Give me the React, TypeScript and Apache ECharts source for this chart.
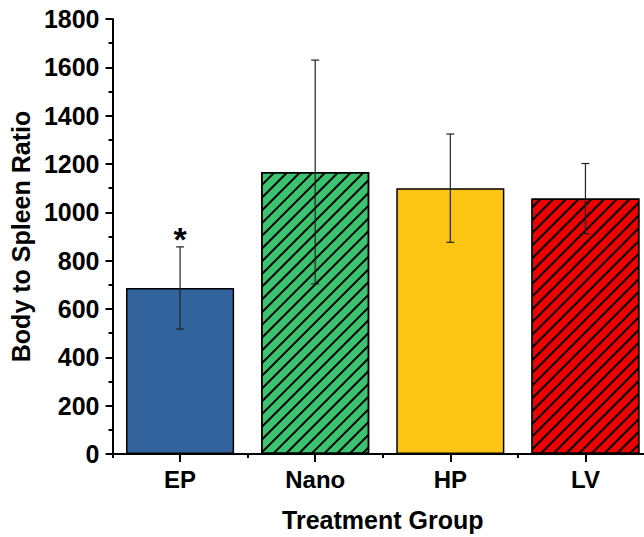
import React, { useEffect, useRef } from "react";
import * as echarts from "echarts";

const categories = ["EP", "Nano", "HP", "LV"];
const means = [687, 1167, 1100, 1057];
const errors = [170, 463, 224, 145];
const annotations = ["*", "", "", ""];
const barColors = ["#32639C", "#3CC36F", "#FDC513", "#EC0000"];
const hatched = [false, true, false, true];

const FONT = "Arial, 'Liberation Sans', sans-serif";

export default function App() {
  const ref = useRef<HTMLDivElement>(null);
  useEffect(() => {
    if (!ref.current) return;
    const chart = echarts.init(ref.current, undefined, { renderer: "svg" });
    const errData = categories.map((c, i) => [i, means[i] - errors[i], means[i] + errors[i], annotations[i]]);
    chart.setOption({
      animation: false,
      backgroundColor: "#fff",
      grid: { left: 111.5, top: 19, right: 0, bottom: 82 },
      xAxis: [
        {
          type: "category",
          data: categories,
          position: "bottom",
          axisLine: { show: true, lineStyle: { color: "#000", width: 2 } },
          axisTick: { show: true, alignWithLabel: true, length: 8, lineStyle: { color: "#000", width: 2 } },
          axisLabel: { color: "#000", fontFamily: FONT, fontWeight: "bold", fontSize: 24, margin: 13 },
          name: "Treatment Group",
          nameLocation: "middle",
          nameGap: 53,
          nameTextStyle: { color: "#000", fontFamily: FONT, fontWeight: "bold", fontSize: 25 },
        },
        {
          type: "category",
          data: categories,
          position: "bottom",
          axisLine: { show: false },
          axisTick: { show: true, alignWithLabel: false, length: 4, lineStyle: { color: "#000", width: 2 } },
          axisLabel: { show: false },
        },
      ],
      yAxis: {
        type: "value",
        min: 0,
        max: 1800,
        interval: 200,
        splitLine: { show: false },
        axisLine: { show: true, lineStyle: { color: "#000", width: 2 } },
        axisTick: { show: true, length: 7, lineStyle: { color: "#000", width: 2 } },
        minorTick: { show: true, splitNumber: 2, length: 4, lineStyle: { color: "#000", width: 2 } },
        axisLabel: {
          color: "#000",
          fontFamily: FONT,
          fontWeight: "bold",
          fontSize: 25,
          margin: 13,
          formatter: (v: number) => String(v),
        },
        name: "Body to Spleen Ratio",
        nameLocation: "middle",
        nameGap: 71,
        nameTextStyle: { color: "#000", fontFamily: FONT, fontWeight: "bold", fontSize: 25 },
      },
      series: [
        {
          type: "bar",
          barWidth: "80%",
          data: means.map((v, i) => ({
            value: v,
            itemStyle: {
              color: barColors[i],
              borderColor: "#000",
              borderWidth: 1.5,
              decal: hatched[i]
                ? {
                    symbol: "rect",
                    symbolSize: 1,
                    color: "#000",
                    dashArrayX: [1, 0],
                    dashArrayY: [2, 6.5],
                    rotation: -Math.PI / 4,
                  }
                : "none",
            },
          })),
        },
        {
          type: "custom",
          data: errData,
          z: 10,
          renderItem: (params: any, api: any) => {
            const x = api.value(0);
            const lo = api.coord([x, api.value(1)]);
            const hi = api.coord([x, api.value(2)]);
            const cap = 4;
            const style = { stroke: "#222", lineWidth: 1.2 };
            const children: any[] = [
              { type: "line", shape: { x1: lo[0], y1: lo[1], x2: hi[0], y2: hi[1] }, style },
              { type: "line", shape: { x1: lo[0] - cap, y1: lo[1], x2: lo[0] + cap, y2: lo[1] }, style },
              { type: "line", shape: { x1: hi[0] - cap, y1: hi[1], x2: hi[0] + cap, y2: hi[1] }, style },
            ];
            const ann = errData[params.dataIndex][3];
            if (ann) {
              children.push({
                type: "text",
                style: {
                  text: ann,
                  x: hi[0],
                  y: hi[1] + 9,
                  textAlign: "center",
                  textVerticalAlign: "bottom",
                  fill: "#000",
                  font: `bold 34px ${FONT}`,
                },
              });
            }
            return { type: "group", children };
          },
        },
      ],
    });
    return () => chart.dispose();
  }, []);
  return <div ref={ref} style={{ position: "fixed", left: 0, top: 0, width: 653, height: 537, background: "#fff" }} />;
}
